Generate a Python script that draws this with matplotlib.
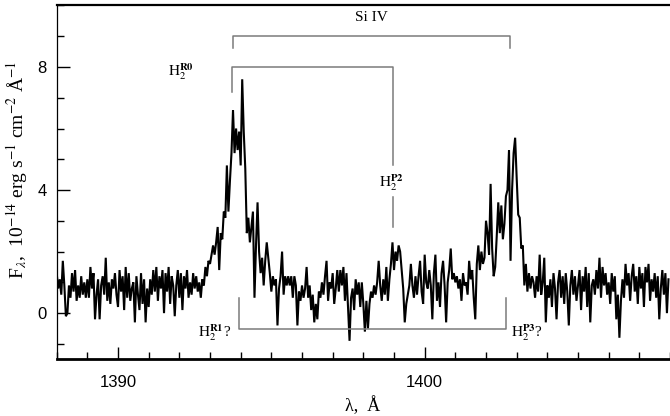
import numpy as np
import matplotlib
matplotlib.use("Agg")
import matplotlib.pyplot as plt
from matplotlib.ticker import MultipleLocator

# ---- data ----
wave_start = 1388.0
wave_step = 0.05
flux = [
    # 1388
    1.3, 0.8, 1.1, 0.6, 1.7, 0.9, -0.1, 0.0, 0.9, 0.5, 1.3, 0.7, 1.4, 0.4, 0.9, 0.5, 1.2, 0.6, 1.0, 0.5,
    # 1389
    1.1, 0.5, 1.5, 0.8, 1.3, -0.2, 0.6, 1.1, -0.2, 0.9, 1.2, 0.6, 1.8, 0.4, 1.0, 0.3, 1.1, 0.8, 1.3, 0.6,
    # 1390
    0.2, 1.4, 0.7, 1.2, 0.1, 1.5, 0.5, 1.3, 0.4, 0.8, 1.0, -0.3, 1.2, 0.6, 0.1, 1.3, 0.3, 1.1, -0.3, 0.8,
    # 1391
    0.2, 1.1, 0.6, 1.4, 0.7, 1.5, 0.4, 1.2, 0.8, 1.4, 0.0, 1.3, 0.7, 1.5, 0.3, 1.2, 0.9, -0.1, 0.9, 1.4,
    # 1392
    0.5, 1.3, 0.1, 1.2, 0.8, 1.4, 0.5, 1.0, 0.6, 1.3, 0.8, 1.2, 0.7, 1.0, 0.5, 1.1, 0.9, 1.5, 1.2, 1.7,
    # 1393
    1.6, 1.9, 2.2, 1.9, 2.3, 2.8, 1.4, 2.6, 2.4, 3.3, 3.1, 4.8, 3.3, 4.3, 5.2, 6.6, 5.2, 6.0, 5.3, 5.9,
    # 1394
    4.8, 7.6, 5.9, 4.7, 2.6, 3.1, 2.3, 2.8, 3.3, 0.5, 2.2, 3.6, 2.0, 1.3, 1.8, 0.9, 1.7, 2.3, 1.8, 1.3,
    # 1395
    0.7, 1.2, 0.9, 1.1, -0.4, 0.8, 1.2, 2.0, 0.6, 1.2, 0.9, 1.2, 0.9, 1.2, 0.5, 1.2, 0.9, -0.4, 0.7, 0.4,
    # 1396
    0.9, 0.5, 0.8, 1.5, 0.5, 0.9, 0.1, 0.6, -0.3, 0.3, -0.2, 0.7, 0.5, 1.0, 0.6, 1.2, 1.7, 0.4, 1.0, 0.8,
    # 1397
    1.3, 0.3, 0.8, 1.4, 0.7, 1.4, 0.9, 1.5, 0.4, 1.3, 0.2, -0.9, 0.5, 0.8, 0.1, 1.1, 0.6, 1.0, 0.2, 1.0,
    # 1398
    0.3, -0.6, 0.4, -0.5, 0.3, 0.7, 0.5, 0.9, 0.6, 1.0, 1.7, 0.9, 0.4, 1.1, 0.6, 1.5, 0.4, 1.1, 1.6, 2.3,
    # 1399
    1.4, 2.0, 1.7, 2.2, 2.0, 1.4, 0.8, -0.3, 0.3, 0.6, 0.9, 1.6, 0.9, 0.5, 1.2, 0.6, 1.2, 1.7, 0.7, 0.3,
    # 1400
    1.9, 1.0, 0.8, 1.4, 0.9, -0.2, 1.3, 1.9, 0.4, 1.0, 0.2, 1.3, 1.7, 0.9, -0.3, 1.0, 1.4, 2.1, 1.1, 1.3,
    # 1401
    1.0, 1.2, 0.8, 1.1, 0.4, 1.3, 0.9, 1.0, 0.6, 1.7, 1.1, 1.4, 0.5, -0.2, 1.6, 2.2, 1.4, 2.0, 1.6, 1.8,
    # 1402
    3.0, 2.6, 1.9, 4.2, 2.1, 1.2, 1.5, 2.5, 3.6, 2.6, 3.5, 2.4, 2.9, 3.8, 4.0, 5.3, 1.7, 4.0, 5.2, 5.7,
    # 1403
    4.4, 3.2, 3.1, 2.1, 2.2, 0.9, 1.6, 0.7, 1.3, 0.8, 1.2, 1.0, 0.5, 1.2, 0.7, 1.9, 0.6, 1.0, 1.8, -0.3,
    # 1404
    0.9, 0.5, 1.1, 0.2, 1.3, 0.8, -0.2, 1.0, 1.4, 0.5, 1.2, 0.3, 1.3, 0.7, -0.4, 0.9, 1.4, 0.6, 1.2, 0.4,
    # 1405
    0.9, 1.4, 0.1, 1.2, 0.7, 1.5, 0.2, 1.3, -0.3, 0.9, 1.1, 0.6, 1.4, 0.8, 1.8, 0.5, 1.5, 0.9, 1.3, 0.6,
    # 1406
    1.0, 0.3, 1.3, 0.7, 1.2, -0.2, 0.6, -0.8, 0.4, 1.1, 0.5, 1.6, 0.9, 1.3, 0.4, 1.2, 1.6, 0.7, 1.2, 0.3,
    # 1407
    1.5, 0.8, 1.3, 0.2, 1.5, 1.0, 1.6, 0.4, 1.1, 0.7, 1.3, 0.5, 1.2, -0.2, 0.8, 1.4, 0.6, 1.3, 0.0, 1.1,
]
wave = wave_start + wave_step * np.arange(len(flux))

# line identifications
siiv_waves = [1393.76, 1402.77]
siiv_y = [8.6, 9.0]
h2_upper_waves = [1393.72, 1398.96]
h2_upper_y = 8.0
h2_lower_waves = [1393.95, 1402.65]
h2_lower_y = [0.5, -0.5]

plt.rcParams['font.family'] = ['Liberation Serif', 'DejaVu Serif']
plt.rcParams['mathtext.fontset'] = 'stix'

fig = plt.figure(figsize=(6.70, 4.16), dpi=100)
ax = fig.add_axes([0.0846, 0.1363, 0.9154, 0.8507])

ax.plot(wave, flux, color='black', lw=1.5, solid_joinstyle='miter')

gray = '#7a7a7a'
blw = 1.1
# Si IV bracket
ax.plot([siiv_waves[0], siiv_waves[0], siiv_waves[1], siiv_waves[1]],
        [siiv_y[0], siiv_y[1], siiv_y[1], siiv_y[0]], color=gray, lw=blw)
ax.text(sum(siiv_waves) / 2, 9.6, 'Si IV', ha='center', va='center', fontsize=11)
# H2 R0 / P2 bracket
ax.plot([h2_upper_waves[0], h2_upper_waves[0], h2_upper_waves[1], h2_upper_waves[1]],
        [7.2, h2_upper_y, h2_upper_y, 4.8], color=gray, lw=blw)
ax.plot([h2_upper_waves[1], h2_upper_waves[1]], [3.78, 2.8], color=gray, lw=blw)
ax.text(1392.05, 7.84, r'$\mathrm{H}_2^{\mathbf{R0}}$', ha='center', va='center', fontsize=11)
ax.text(1398.93, 4.24, r'$\mathrm{H}_2^{\mathbf{P2}}$', ha='center', va='center', fontsize=11)
# H2 R1 / P3 bracket
ax.plot([h2_lower_waves[0], h2_lower_waves[0], h2_lower_waves[1], h2_lower_waves[1]],
        [h2_lower_y[0], h2_lower_y[1], h2_lower_y[1], h2_lower_y[0]], color=gray, lw=blw)
ax.text(1393.16, -0.62, r'$\mathrm{H}_2^{\mathbf{R1}}$?', ha='center', va='center', fontsize=11)
ax.text(1403.35, -0.62, r'$\mathrm{H}_2^{\mathbf{P3}}$?', ha='center', va='center', fontsize=11)

ax.set_xlim(1388, 1408)
ax.set_ylim(-1.5, 10)
ax.xaxis.set_major_locator(MultipleLocator(10))
ax.xaxis.set_minor_locator(MultipleLocator(1))
ax.yaxis.set_major_locator(MultipleLocator(4))
ax.yaxis.set_minor_locator(MultipleLocator(1))

ax.tick_params(which='both', direction='in', top=False, right=False)
ax.tick_params(which='major', length=9, width=1.0)
ax.tick_params(which='minor', length=5, width=1.0)
ax.tick_params(axis='x', which='major', pad=11)
ax.tick_params(axis='y', which='major', pad=7)
for lab in ax.get_xticklabels() + ax.get_yticklabels():
    lab.set_family('Liberation Sans')
    lab.set_fontsize(12)

ax.spines['right'].set_visible(False)
ax.spines['bottom'].set_linewidth(2.0)
ax.spines['top'].set_linewidth(1.6)
ax.spines['left'].set_linewidth(0.9)

ax.set_xlabel('λ,  Å', fontsize=13)
ax.xaxis.set_label_coords(0.4995, -0.105)
ax.set_ylabel(r'F$_{λ}$,  10$^{-14}$ erg s$^{-1}$ cm$^{-2}$ Å$^{-1}$', fontsize=14)
ax.yaxis.set_label_coords(-0.044, 0.535)

fig.savefig('out.png', dpi=100)
